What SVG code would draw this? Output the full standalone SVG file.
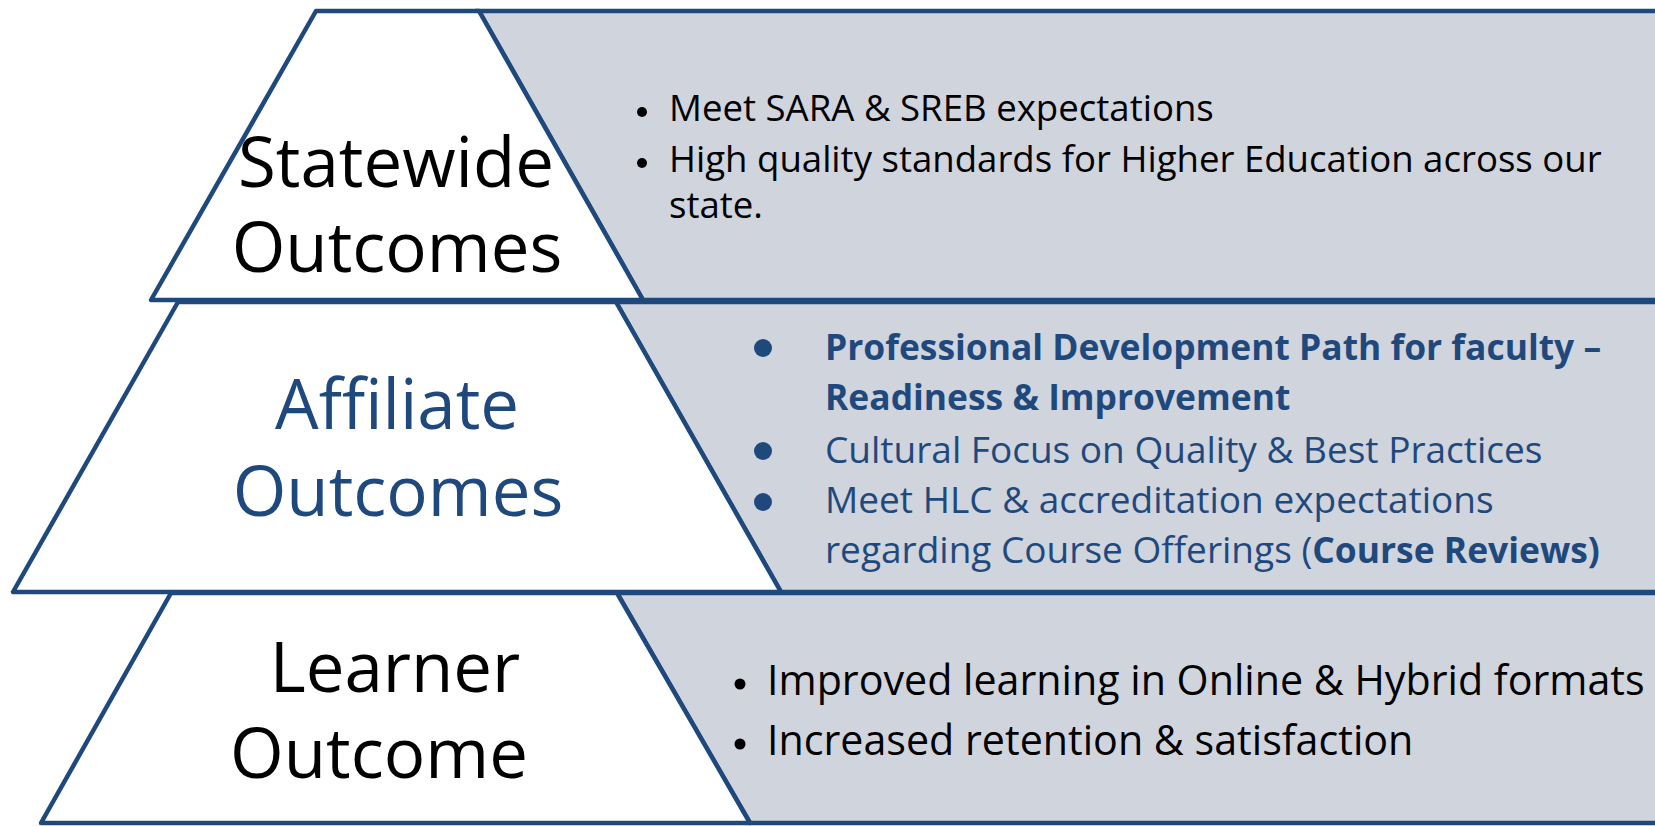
<svg xmlns="http://www.w3.org/2000/svg" width="1655" height="826" viewBox="0 0 1655 826">
<style>
.band{fill:#D0D4DD;stroke:#1F497D;stroke-width:4.5;stroke-linejoin:miter}
.trap{fill:#FFFFFF;stroke:#1F497D;stroke-width:4.5;stroke-linejoin:round}
.lbl{font-family:'Open Sans','Noto Sans',sans-serif;font-size:69px;text-anchor:middle}
.blk{fill:#000000}
.blu{fill:#1F497D}
.t{font-family:'Open Sans','Noto Sans',sans-serif}
.b{font-weight:bold}
</style>
<rect x="0" y="0" width="1655" height="826" fill="#FFFFFF"/>
<g id="statewide">
<polygon class="band" points="479,11 1665,11 1665,300 643,300"/>
<polygon class="trap" points="316,11 479,11 643,300 151,300"/>
<text class="lbl blk" x="396" y="187">Statewide</text>
<text class="lbl blk" x="397" y="272">Outcomes</text>
<g class="t blk" font-size="36.6">
<circle cx="642" cy="112" r="5"/>
<text x="669" y="121">Meet SARA &amp; SREB expectations</text>
<circle cx="642" cy="163" r="5"/>
<text x="669" y="172">High quality standards for Higher Education across our</text>
<text x="669" y="218">state.</text>
</g>
</g>
<g id="affiliate">
<polygon class="band" points="616,302 1665,302 1665,592 781,592"/>
<polygon class="trap" points="178,302 616,302 781,592 13,592"/>
<text class="lbl blu" x="397" y="429">Affiliate</text>
<text class="lbl blu" x="398" y="516">Outcomes</text>
<g class="t blu" font-size="37">
<circle cx="763" cy="348" r="9"/>
<text class="b" x="825" y="360" font-size="35.4">Professional Development Path for faculty –</text>
<text class="b" x="825" y="410" font-size="35.4">Readiness &amp; Improvement</text>
<circle cx="763" cy="451" r="9"/>
<text x="825" y="463">Cultural Focus on Quality &amp; Best Practices</text>
<circle cx="763" cy="502" r="9"/>
<text x="825" y="513">Meet HLC &amp; accreditation expectations</text>
<text x="825" y="563">regarding Course Offerings (<tspan class="b" font-size="35.4">Course Reviews)</tspan></text>
</g>
</g>
<g id="learner">
<polygon class="band" points="617,593 1665,593 1665,823 750,823"/>
<polygon class="trap" points="171,593 617,593 750,823 41,823"/>
<text class="lbl blk" x="395" y="692">Learner</text>
<text class="lbl blk" x="379" y="778">Outcome</text>
<g class="t blk" font-size="41.2">
<circle cx="740" cy="684" r="5.5"/>
<text x="767" y="695">Improved learning in Online &amp; Hybrid formats</text>
<circle cx="740" cy="744" r="5.5"/>
<text x="767" y="755">Increased retention &amp; satisfaction</text>
</g>
</g>
<g id="connectors"></g>
</svg>
